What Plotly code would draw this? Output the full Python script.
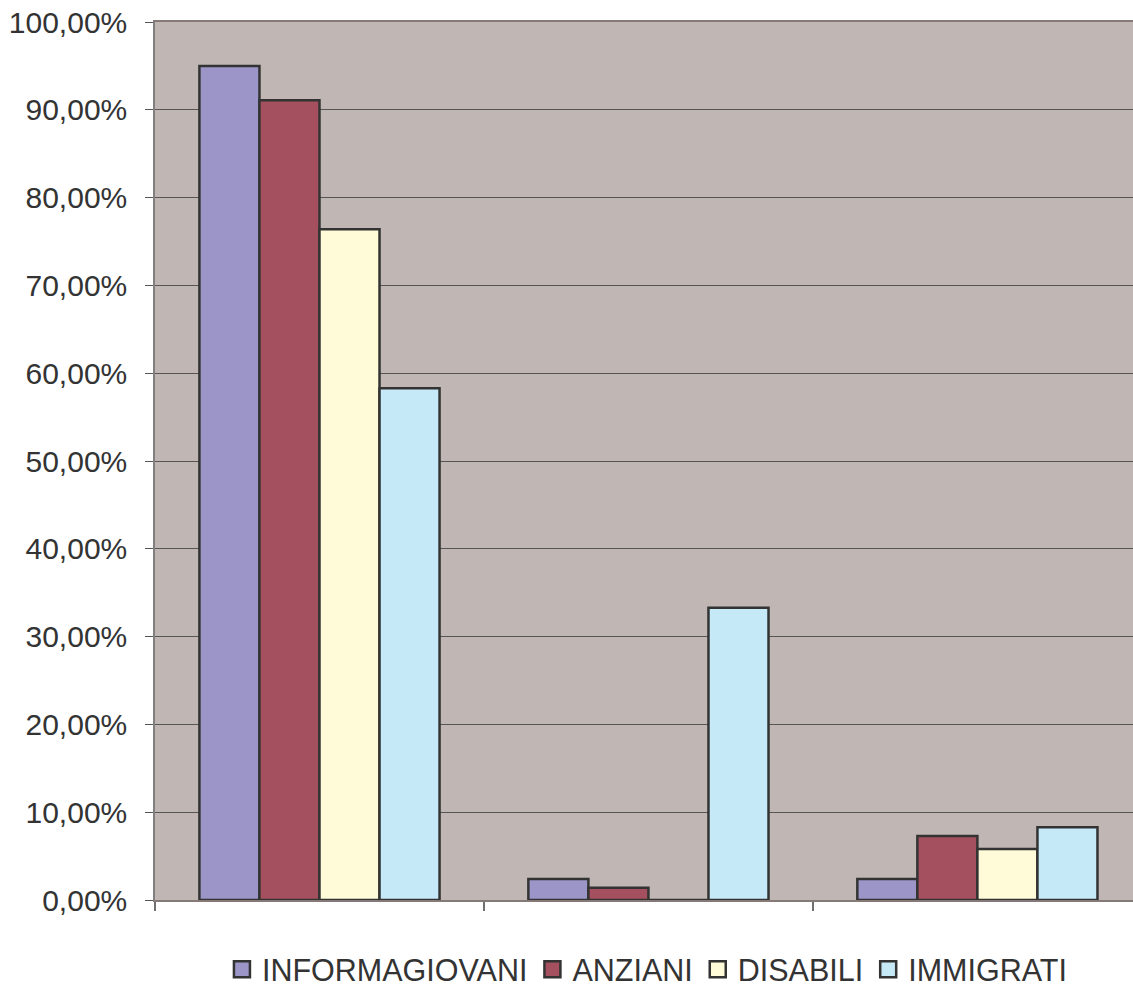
import plotly.graph_objects as go

# Survey shares per service (three answer groups, four user categories)
groups = [0, 1, 2]
series_names = ["INFORMAGIOVANI", "ANZIANI", "DISABILI", "IMMIGRATI"]
informagiovani = [95.0, 2.4, 2.4]
anziani = [91.1, 1.4, 7.3]
disabili = [76.4, 0.0, 5.8]
immigrati = [58.3, 33.3, 8.3]
y_ticks = [0, 10, 20, 30, 40, 50, 60, 70, 80, 90, 100]
y_tick_labels = ["0,00%", "10,00%", "20,00%", "30,00%", "40,00%", "50,00%",
                 "60,00%", "70,00%", "80,00%", "90,00%", "100,00%"]

series_values = [informagiovani, anziani, disabili, immigrati]
colors = ["#9C96C8", "#A5505E", "#FFFAD7", "#C6E9F8"]
outline = "#333333"
font_family = "Liberation Sans, Arial, sans-serif"

fig = go.Figure()
for name, vals, col in zip(series_names, series_values, colors):
    fig.add_trace(go.Bar(
        x=groups, y=vals, name=name, showlegend=False,
        marker=dict(color=col, line=dict(color=outline, width=2.5)),
    ))

# Larger square swatches for the legend
for name, col in zip(series_names, colors):
    fig.add_trace(go.Scatter(
        x=[None], y=[None], mode="markers", name=name,
        marker=dict(symbol="square", size=20, color=col,
                    line=dict(color=outline, width=2.5)),
    ))

fig.update_layout(
    width=1133, height=996,
    margin=dict(l=155, r=0, t=22, b=96),
    paper_bgcolor="white",
    plot_bgcolor="#C0B7B4",
    barmode="group", bargap=0.27, bargroupgap=0,
    font=dict(family=font_family, size=30, color="#333333"),
    showlegend=True,
    legend=dict(orientation="h", x=0.503, xanchor="center",
                y=-0.1093, yanchor="bottom",
                font=dict(size=30.5, color="#333333"),
                itemwidth=30, tracegroupgap=0),
)

fig.update_xaxes(
    range=[-0.5, 2.473], showgrid=False, zeroline=False,
    tickmode="array", tickvals=[-0.5, 0.5, 1.5], showticklabels=False,
    ticks="outside", ticklen=9, tickcolor="#707070", tickwidth=1.5,
    showline=True, mirror=True, linecolor="#857A78", linewidth=2,
)
fig.update_yaxes(
    range=[0, 100], tickmode="array", tickvals=y_ticks, ticktext=y_tick_labels,
    showgrid=True, gridcolor="#555555", gridwidth=1,
    zeroline=False,
    ticks="outside", ticklen=8, tickcolor="#555555", tickwidth=1,
    showline=True, linecolor="#808080", linewidth=1.5,
    ticklabelstandoff=12,
    tickfont=dict(size=30, color="#333333"),
)

fig.write_html("out.html")
